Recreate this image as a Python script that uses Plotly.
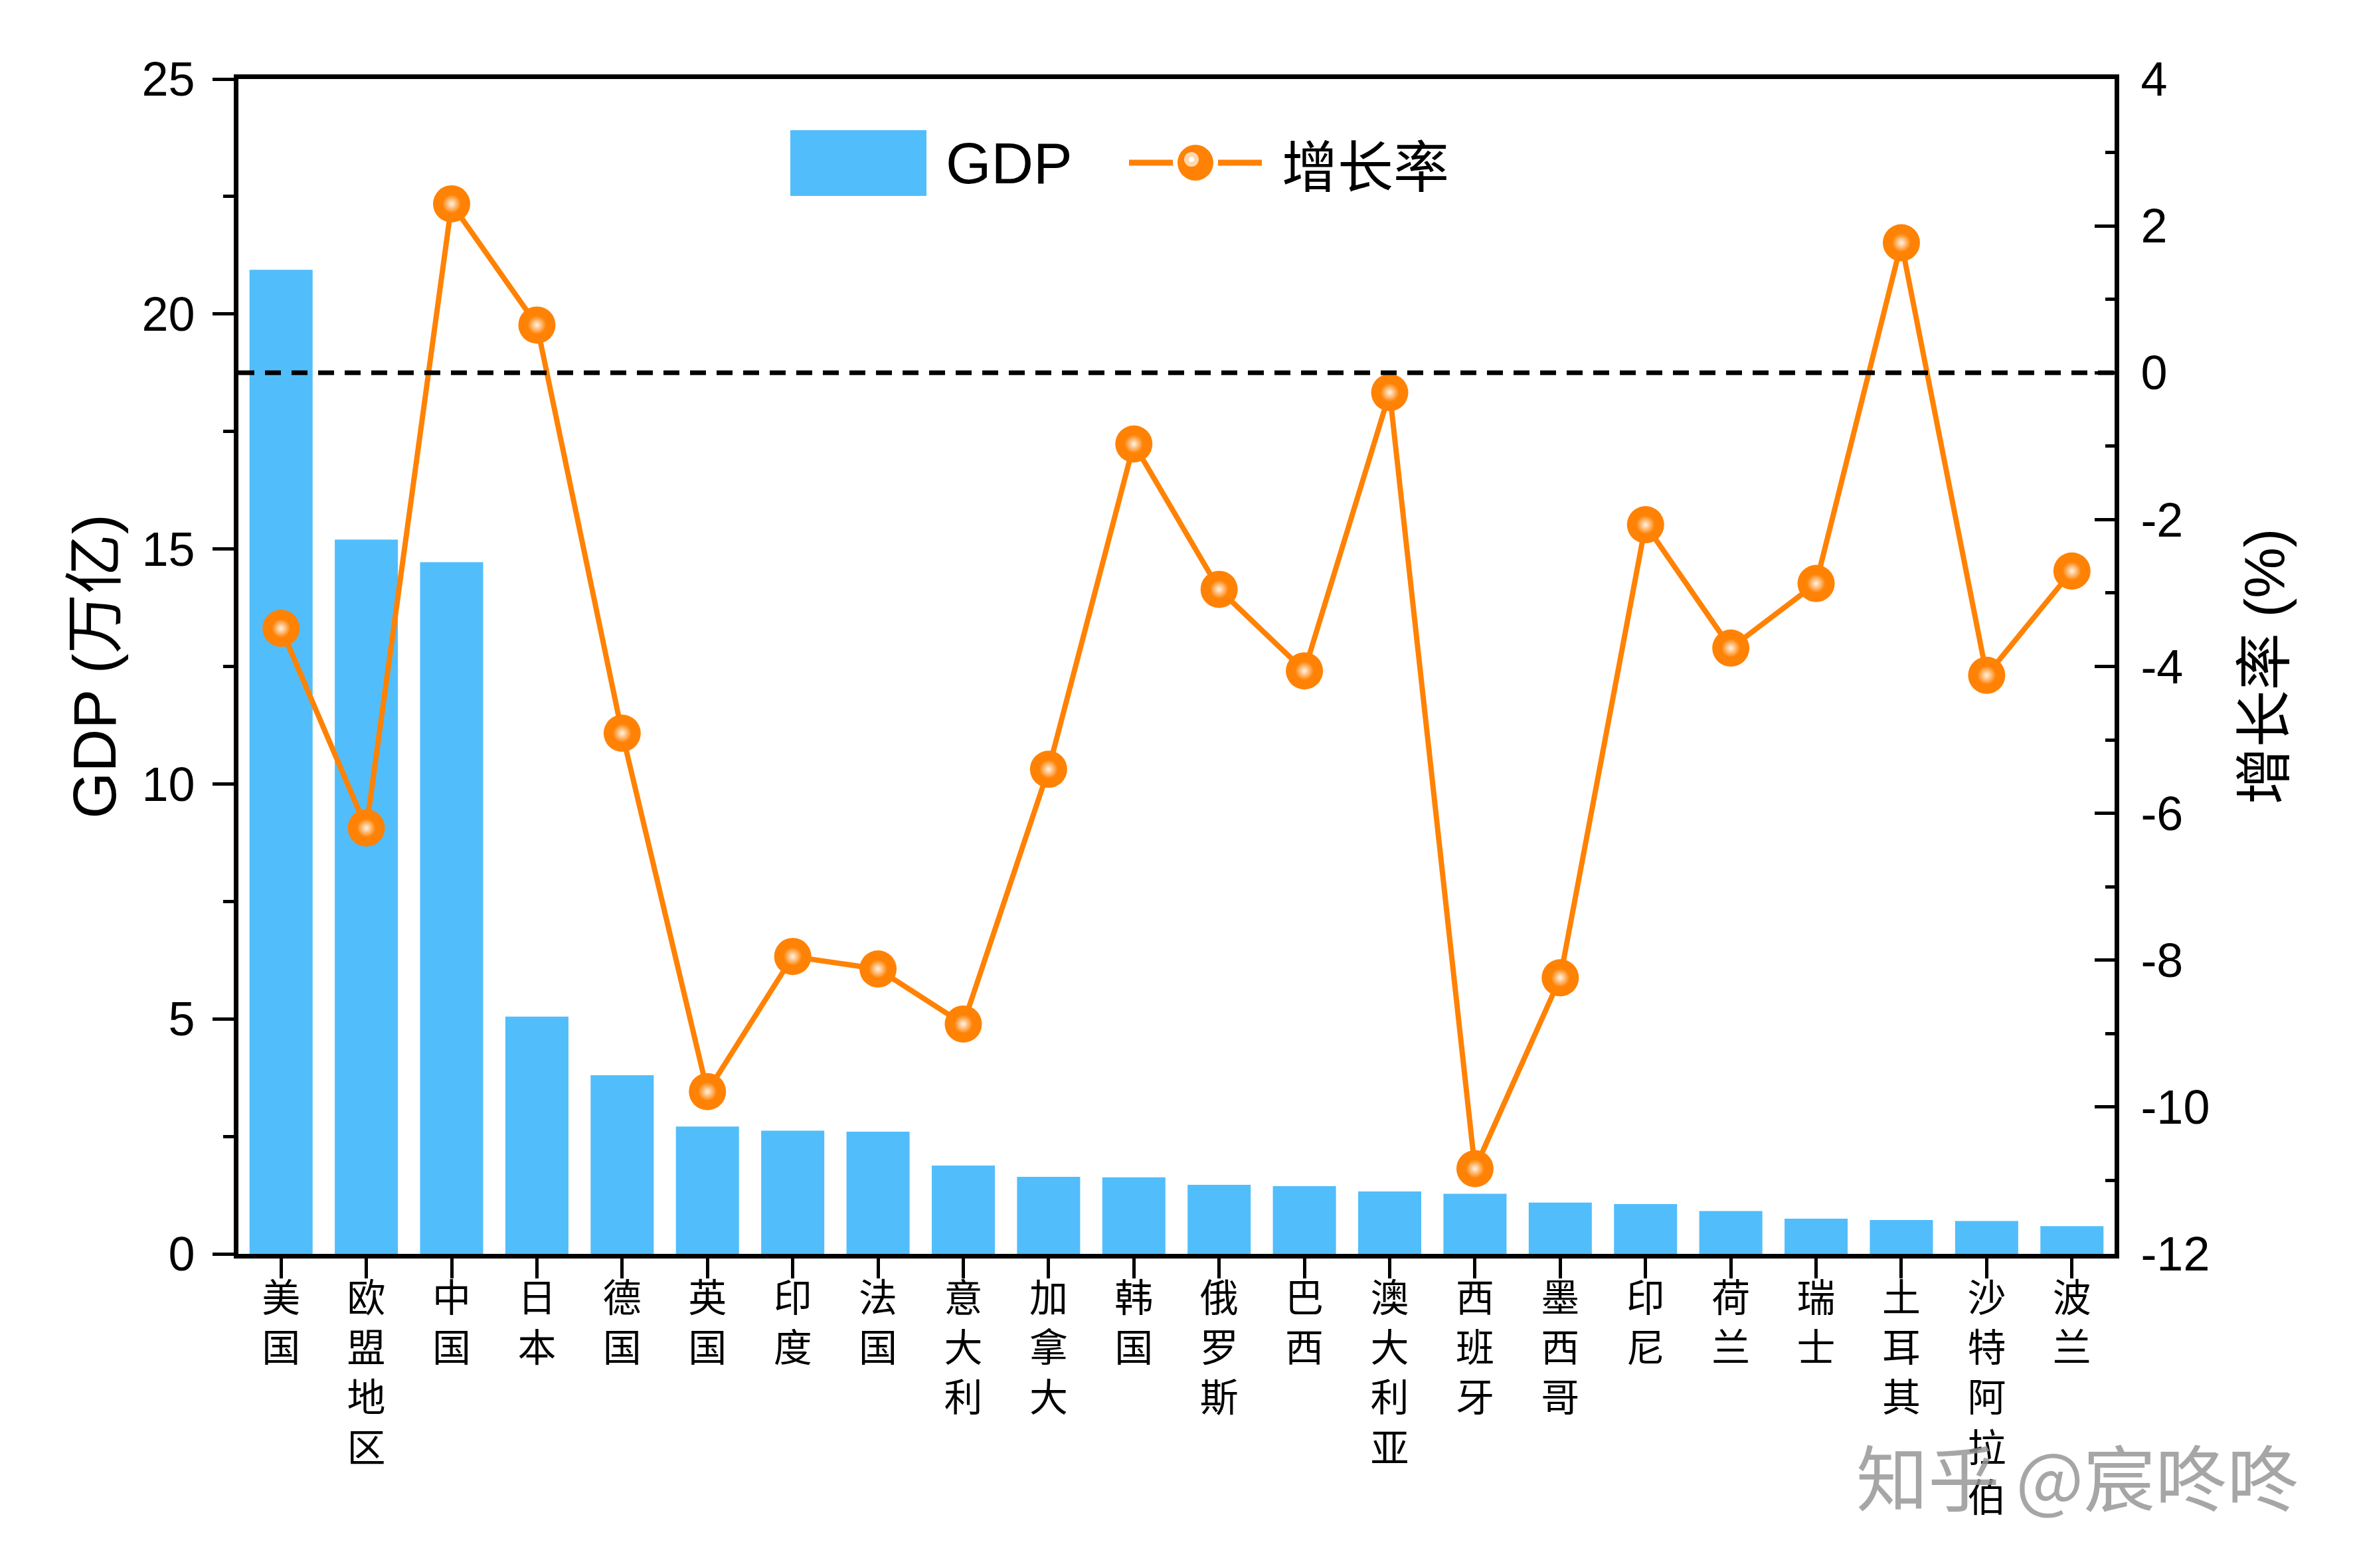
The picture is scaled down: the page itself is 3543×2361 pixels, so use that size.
import plotly.graph_objects as go

# ---------------- data ----------------
countries = ["美国", "欧盟地区", "中国", "日本", "德国", "英国", "印度", "法国", "意大利", "加拿大",
             "韩国", "俄罗斯", "巴西", "澳大利亚", "西班牙", "墨西哥", "印尼", "荷兰", "瑞士",
             "土耳其", "沙特阿拉伯", "波兰"]
gdp = [20.94, 15.20, 14.72, 5.05, 3.80, 2.71, 2.62, 2.60, 1.88, 1.64,
       1.63, 1.47, 1.44, 1.33, 1.28, 1.09, 1.06, 0.91, 0.75, 0.72, 0.70, 0.59]
growth = [-3.48, -6.20, 2.30, 0.65, -4.91, -9.79, -7.95, -8.12, -8.87, -5.40,
          -0.97, -2.95, -4.06, -0.27, -10.84, -8.24, -2.07, -3.75, -2.87,
          1.77, -4.12, -2.70]

y1_ticks = [0, 5, 10, 15, 20, 25]
y2_ticks = [4, 2, 0, -2, -4, -6, -8, -10, -12]
y2_tick_text = ["4", "2", "0", "-2", "-4", "-6", "-8", "-10", "-12"]

# ---------------- styles ----------------
BLUE = "#52BDFB"
ORANGE = "#FF8204"
LATIN = "Liberation Sans, Arial, Noto Sans CJK SC"
CJK = "Noto Sans CJK SC"

W, H = 3543, 2361
ML, MR, MT, MB = 351, 367, 111, 481
PW, PH = W - ML - MR, H - MT - MB

def px(X):
    return (X - ML) / PW

def py(Y):
    return (H - MB - Y) / PH

x_labels = ["<br>".join(list(c)) for c in countries]

fig = go.Figure()

fig.add_trace(go.Bar(
    x=countries, y=gdp, name="GDP", marker=dict(color=BLUE, line=dict(width=0)),
    width=0.74, yaxis="y", showlegend=False,
))

fig.add_trace(go.Scatter(
    x=countries, y=growth, name="增长率", yaxis="y2", mode="lines+markers",
    line=dict(color=ORANGE, width=8),
    marker=dict(size=56, color=ORANGE, line=dict(width=0)),
    showlegend=False,
))

fig.add_trace(go.Scatter(
    x=countries, y=growth, yaxis="y2", mode="markers",
    marker=dict(size=28, color=ORANGE, line=dict(width=0),
                gradient=dict(type="radial", color="#FFF4E8")),
    showlegend=False, hoverinfo="skip",
))

shapes = []
# zero dashed line
shapes.append(dict(type="line", xref="paper", yref="y2", x0=0, x1=1, y0=0, y1=0,
                   line=dict(color="black", width=7, dash="24px,16px"), layer="above"))

# custom legend: bar rectangle
shapes.append(dict(type="rect", xref="paper", yref="paper",
                   x0=px(1182), x1=px(1387), y0=py(287), y1=py(188),
                   fillcolor=BLUE, line=dict(width=0)))
# legend line with gap around marker
shapes.append(dict(type="line", xref="paper", yref="paper",
                   x0=px(1692), x1=px(1758), y0=py(237), y1=py(237),
                   line=dict(color=ORANGE, width=9)))
shapes.append(dict(type="line", xref="paper", yref="paper",
                   x0=px(1826), x1=px(1892), y0=py(237), y1=py(237),
                   line=dict(color=ORANGE, width=9)))
shapes.append(dict(type="circle", xref="paper", yref="paper",
                   x0=px(1792 - 27), x1=px(1792 + 27), y0=py(237 + 27), y1=py(237 - 27),
                   fillcolor=ORANGE, line=dict(width=0)))
shapes.append(dict(type="circle", xref="paper", yref="paper",
                   x0=px(1775), x1=px(1797), y0=py(243), y1=py(221),
                   fillcolor="#FFD8B0", line=dict(width=0)))
shapes.append(dict(type="circle", xref="paper", yref="paper",
                   x0=px(1782), x1=px(1790), y0=py(236), y1=py(228),
                   fillcolor="#FFFFFF", line=dict(width=0)))

annotations = [
    dict(text="GDP", xref="paper", yref="paper", x=px(1414), y=py(237),
         xanchor="left", yanchor="middle", showarrow=False,
         font=dict(family=LATIN, size=88, color="black")),
    dict(text="增长率", xref="paper", yref="paper", x=px(1920), y=py(237),
         xanchor="left", yanchor="middle", showarrow=False,
         font=dict(family=CJK, size=84, color="black")),
    dict(text="知乎 @宸咚咚", xref="paper", yref="paper", x=px(3455), y=py(2212),
         xanchor="right", yanchor="middle", showarrow=False,
         font=dict(family=CJK, size=108, color="rgba(150,150,150,0.85)")),
]

fig.update_layout(
    width=W, height=H,
    margin=dict(l=ML, r=MR, t=MT, b=MB, autoexpand=False),
    paper_bgcolor="white", plot_bgcolor="white",
    shapes=shapes, annotations=annotations,
    xaxis=dict(
        type="category", range=[-0.5, len(countries) - 0.5],
        tickmode="array", tickvals=countries, ticktext=x_labels,
        showline=True, linecolor="black", linewidth=7, mirror=True,
        ticks="outside", ticklen=30, tickwidth=5, tickcolor="black",
        tickfont=dict(family=CJK, size=58, color="black"),
        ticklabelstandoff=-20,
        showgrid=False, zeroline=False, tickangle=0,
    ),
    yaxis=dict(
        range=[0, 25], tickmode="array", tickvals=y1_ticks,
        showline=True, linecolor="black", linewidth=7,
        ticks="outside", ticklen=32, tickwidth=5, tickcolor="black",
        minor=dict(dtick=2.5, ticks="outside", ticklen=16, tickwidth=5, tickcolor="black"),
        tickfont=dict(family=LATIN, size=72, color="black"),
        ticklabelstandoff=12,
        title=dict(text="GDP (万亿)", font=dict(family=LATIN, size=90, color="black"), standoff=12),
        showgrid=False, zeroline=False,
    ),
    yaxis2=dict(
        range=[-12, 4], overlaying="y", side="right",
        tickmode="array", tickvals=y2_ticks, ticktext=y2_tick_text,
        showline=True, linecolor="black", linewidth=7,
        ticks="inside", ticklen=30, tickwidth=5, tickcolor="black",
        minor=dict(dtick=1, ticks="inside", ticklen=14, tickwidth=5, tickcolor="black"),
        tickfont=dict(family=LATIN, size=72, color="black"),
        ticklabelstandoff=18,
        title=dict(text="增长率 (%)", font=dict(family=LATIN, size=86, color="black"), standoff=56),
        showgrid=False, zeroline=False,
    ),
)

fig.write_html("out.html")
